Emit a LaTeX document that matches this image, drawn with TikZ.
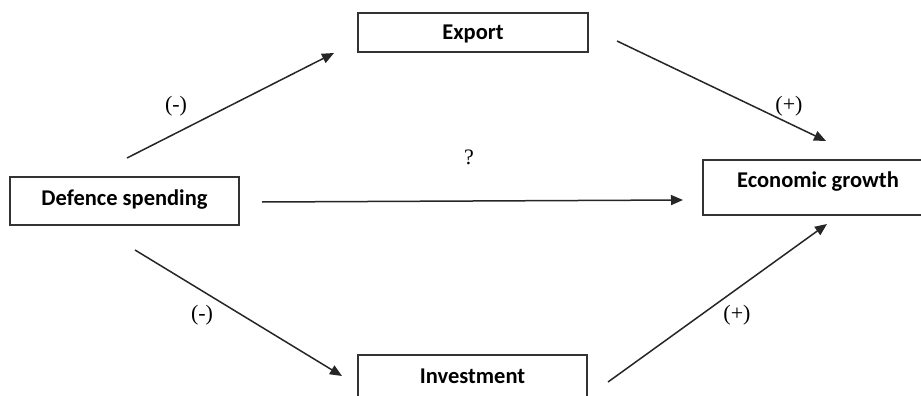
\documentclass[tikz,border=0pt]{standalone}
\usepackage{fontspec}
\newfontfamily\boxfont{Carlito}
\newfontfamily\labfont{Liberation Serif}
\usetikzlibrary{arrows.meta}
\begin{document}
\begin{tikzpicture}[x=1pt,y=-1pt,
  box/.style={draw=black!80, line width=1.3pt, fill=white, inner sep=0pt,
    font=\boxfont\bfseries\fontsize{22.5}{26}\selectfont, text height=14.5pt},
  conn/.style={line width=1.5pt, draw=black!85, -{Triangle[length=12pt,width=10pt]}},
  sign/.style={font=\labfont\fontsize{22}{26}\selectfont, inner sep=0pt}]
\clip (0,0) rectangle (921,396);
\fill[white] (0,0) rectangle (921,396);
% boxes
\node[box, minimum width=230pt, minimum height=39pt, text depth=0pt] (exp) at (473,32.5) {Export};
\node[box, minimum width=229pt, minimum height=48pt, text depth=4.6pt] (def) at (124.5,201) {Defence spending};
\node[box, minimum width=230pt, minimum height=55pt, text depth=14pt] (eco) at (818,187.5) {Economic growth};
\node[box, minimum width=229pt, minimum height=42pt, text depth=0pt] (inv) at (472.5,376) {Investment};
% connector end points
\coordinate (a1) at (127,158);
\coordinate (a2) at (334,53);
\coordinate (b1) at (262,202);
\coordinate (b2) at (683,200);
\coordinate (c1) at (135,250);
\coordinate (c2) at (342,376);
\coordinate (d1) at (617,41);
\coordinate (d2) at (826,141);
\coordinate (e1) at (608,382);
\coordinate (e2) at (827,224);
\draw[conn] (a1) -- (a2);
\draw[conn] (b1) -- (b2);
\draw[conn] (c1) -- (c2);
\draw[conn] (d1) -- (d2);
\draw[conn] (e1) -- (e2);
% labels
\node[sign] (l1) at (176,106) {(-)};
\node[sign] (l2) at (469,157) {?};
\node[sign] (l3) at (789,106) {(+)};
\node[sign] (l4) at (202,315) {(-)};
\node[sign] (l5) at (737,315) {(+)};
\end{tikzpicture}
\end{document}
